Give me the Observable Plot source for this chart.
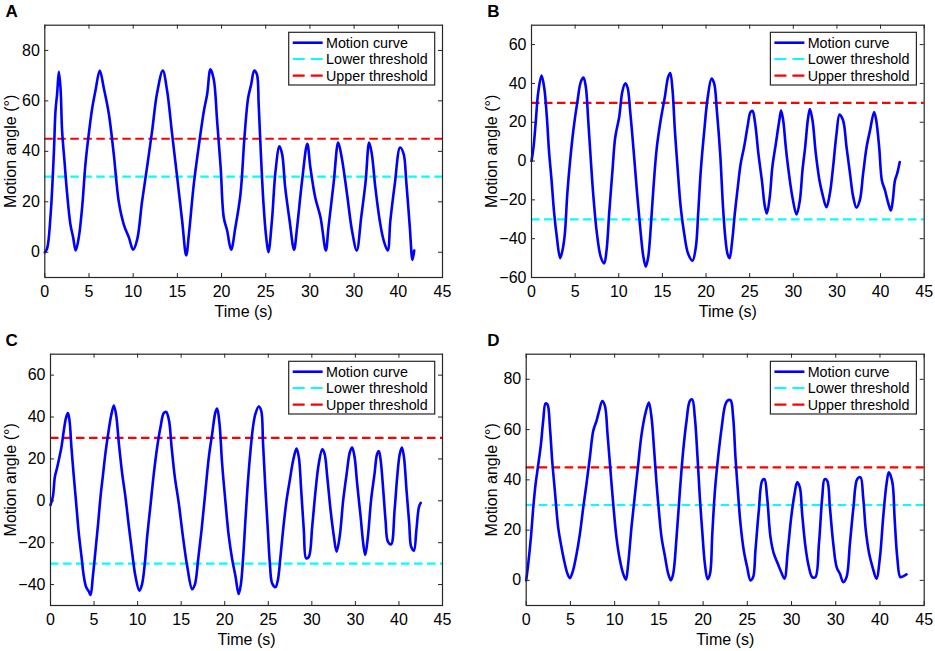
<!DOCTYPE html>
<html><head><meta charset="utf-8">
<script src="https://cdn.jsdelivr.net/npm/d3@7"></script>
<script src="https://cdn.jsdelivr.net/npm/@observablehq/plot@0.6"></script>
<style>
body{margin:0;background:#fff;}
#wrap{position:relative;width:935px;height:651px;background:#fff;overflow:hidden;}
#wrap svg{position:absolute;}
</style></head><body><div id="wrap"></div>
<script>
// ---------- data ----------
const xTicks = [0,5,10,15,20,25,30,35,40,45];
const xTickLabels = ["0","5","10","15","20","25","30","30","40","45"];
const legendLabels = ["Motion curve","Lower threshold","Upper threshold"];
const xLabel = "Time (s)";
const yLabel = "Motion angle (°)";

const timeA = [0,0.26,0.64,1.02,1.21,1.4,1.59,1.78,1.96,2.23,2.53,2.9,3.2,3.5,3.85,4.23,4.6,4.98,5.36,5.73,6.22,6.68,7.24,7.8,8.37,8.94,9.5,10.0,10.45,11.0,11.58,12.14,12.7,13.35,13.84,14.4,14.97,15.54,16.0,16.3,16.86,17.4,18.0,18.37,18.74,19.12,19.5,19.9,20.25,20.63,21.08,21.57,22.14,22.6,23.0,23.35,23.7,24.0,24.2,24.45,24.75,25.05,25.3,25.7,26.1,26.55,26.85,27.2,27.7,28.2,28.55,29.1,29.7,30.05,30.6,31.2,31.8,32.1,32.7,33.2,33.6,34.2,34.76,35.3,35.8,36.3,36.7,37.0,37.4,37.9,38.35,38.8,39.1,39.6,40.2,40.6,40.9,41.3,41.6,41.8];
const angleA = [0,1.5,14,39,56,63,71.5,65,48,36,23,11,6,0.7,6,18,35,47,57,64,72,65,55,39,20,11,6,1,5,20,34,48,63,72,64,47,30,12.5,-1.3,7,27,41.5,56,62.6,72.5,68.5,52,33.6,13.8,8.6,1,10,23,46,61,66.5,72,70.5,58.6,39,19,6,0,12.5,32,42,39,25.7,12.5,1,10,28,43,33.6,21.7,13.8,0.7,10,28,43.5,37.5,23,8.6,0.7,13.8,28,43.5,39,25.7,12.5,4.6,0.7,12.5,27,41.5,39,28,10,-3,0.7];

const timeB = [0,0.23,0.5,0.76,1.15,1.45,1.76,2.0,2.3,2.6,2.9,3.28,3.55,3.82,4.1,4.43,4.8,5.27,5.65,5.96,6.23,6.5,6.8,7.1,7.5,7.95,8.33,8.6,8.9,9.28,9.6,10.05,10.4,10.73,11.0,11.3,11.7,12.07,12.45,12.83,13.1,13.37,13.67,13.98,14.36,14.8,15.28,15.66,15.9,16.16,16.43,16.73,17.1,17.5,17.95,18.45,18.83,19.1,19.4,19.8,20.17,20.63,20.93,21.24,21.62,21.95,22.2,22.46,22.7,23.0,23.3,23.6,23.97,24.36,24.75,25.1,25.33,25.63,26.0,26.4,26.73,26.97,27.3,27.6,28.0,28.4,28.6,28.84,29.14,29.5,29.9,30.37,30.75,31.05,31.36,31.66,31.9,32.2,32.58,33.0,33.34,33.8,34.18,34.56,34.95,35.3,35.7,36.1,36.5,36.87,37.24,37.62,38.0,38.4,38.8,39.26,39.5,39.84,40.15,40.5,40.9,41.18,41.4,41.65,41.9,42.2];
const angleB = [0,7,21,35,44,38,22.7,5.5,-10,-27,-39,-50,-46,-37.5,-17,0.3,16,31,40.8,43,38,21,0.3,-18.6,-37.5,-49.6,-52.7,-46,-27,-4.8,12.4,22.7,35.6,40,38,26,5.5,-15,-34,-49.6,-54.4,-49.6,-34,-13.4,7,21,33,43.4,45.4,36.5,15.8,-3,-23.8,-37.5,-47.8,-51.3,-44.4,-27,-4.8,15.8,32,42.5,40,26,3.8,-24,-39,-47.8,-50,-41,-27,-15,-1.4,7.2,17.5,25.3,25.8,19.3,3.8,-10,-23,-27,-18.6,-3,9,21,26,21,7.2,-6.5,-18.6,-27.5,-20.3,-4.8,7.2,21,26.8,21,3.8,-10,-17,-23.8,-17,-3,14,24,21,7.2,-6.5,-18.6,-24,-20.3,-6.5,7.2,16,25.3,21,7.2,-10,-15,-22,-25.5,-20.3,-10,-6.5,-0.5];

const timeC = [0,0.27,0.5,0.77,1.03,1.26,1.53,1.8,2.0,2.18,2.4,2.68,2.95,3.25,3.56,3.83,4.1,4.4,4.6,4.86,5.17,5.47,5.74,6.0,6.3,6.62,6.97,7.27,7.54,7.85,8.23,8.6,9.0,9.38,9.76,10.2,10.5,10.83,11.1,11.5,11.86,12.25,12.63,13.0,13.28,13.6,13.9,14.27,14.73,15.2,15.7,16.26,16.57,16.95,17.34,17.72,18.18,18.56,18.94,19.13,19.4,19.7,20.1,20.47,20.86,21.24,21.6,21.85,22.12,22.4,22.65,22.96,23.27,23.53,23.9,24.18,24.4,24.68,24.95,25.18,25.44,25.82,26.1,26.4,26.7,27.1,27.47,27.86,28.24,28.5,28.78,29.08,29.35,29.66,30.04,30.43,30.8,31.2,31.46,31.77,32.15,32.53,32.84,33.2,33.6,34.0,34.37,34.63,34.9,35.2,35.6,35.9,36.13,36.44,36.8,37.2,37.5,37.7,37.9,38.2,38.46,38.73,39.1,39.5,39.8,40.1,40.34,40.57,40.87,41.18,41.4,41.72,42.0,42.3,42.5];
const angleC = [-2,1.9,11.4,16,21,25.7,33.6,40,41.9,38.4,25.7,11.4,-1.3,-15.6,-26.7,-36.2,-41.3,-43.3,-45,-36.2,-23.5,-10.8,1.9,11.4,22.5,32,40.8,45.5,40.8,27.3,13,1.9,-12.4,-25,-36.2,-42.9,-40,-29.8,-17,-1.3,13,25.7,35.2,41.9,42.4,38.4,25.7,11.4,-1.3,-17,-31.4,-42.2,-40,-28,-14,1.9,21,32,42.4,44,36.8,17.8,-1.3,-17,-28,-36.2,-44.5,-40,-26.7,-7.6,8.3,24,36,41.6,45,43.2,27.3,5,-14,-29.8,-39.4,-41.3,-37.8,-26.7,-14,0.3,9.8,19.4,24.9,21,5,-14,-27.5,-26.7,-12.4,5,17.8,24.6,22.5,11.4,-4.4,-17,-24.3,-17,0.3,13,23.3,25.4,21,8.3,-7.6,-20.3,-25.9,-17,0.3,13,22.5,23.7,19.4,5,-9.2,-19.5,-20.8,-4.4,11.4,22.5,25.4,21,5,-10.8,-21.9,-23.8,-14,-2.9,-1];

const timeD = [0,0.23,0.53,0.8,1.05,1.36,1.66,1.92,2.19,2.41,2.68,2.94,3.24,3.62,4.0,4.37,4.67,4.94,5.3,5.7,6.07,6.45,6.8,7.2,7.58,7.95,8.25,8.6,8.9,9.2,9.5,9.84,10.2,10.6,10.97,11.27,11.53,11.9,12.3,12.66,13.04,13.5,13.87,14.17,14.47,14.74,15.0,15.3,15.7,16.06,16.36,16.62,17.0,17.38,17.75,18.13,18.5,18.77,19.07,19.37,19.63,19.9,20.2,20.5,20.78,21.04,21.34,21.7,22.1,22.47,22.72,23.1,23.4,23.66,23.93,24.23,24.6,24.98,25.36,25.66,25.92,26.3,26.68,26.94,27.24,27.62,28.0,28.45,28.83,29.2,29.58,29.96,30.34,30.64,30.94,31.2,31.58,31.96,32.33,32.7,33.1,33.47,33.74,34.03,34.34,34.72,35.1,35.47,35.85,36.22,36.6,37.0,37.43,37.8,38.1,38.4,38.78,39.16,39.6,40.0,40.36,40.74,41.0,41.4,41.65,41.95,42.3,42.6,43.0];
const angleD = [0,6.6,17,29,38,46,54,63.5,70.4,70,61,47.6,35.7,21,13,6.6,2.6,0.9,4,10.6,18.5,29,38,49,59.5,63.5,67.5,71.4,69.4,58,45,30.4,17.2,8,2.6,0.3,6.6,21,34.4,46,58,66.8,70.8,64.8,51.6,38.4,27.8,17.2,9.3,2.6,0,2.6,17.2,35.7,51.6,63.5,71.4,72,64.8,49,33,19.8,6.6,0.5,2.6,18.5,35.7,49,60.8,69.4,71.4,71.7,64.8,49,35.7,22.5,11.9,5.3,0,1.3,11.9,27.8,39.7,40.3,33,17.2,10.6,6.6,3.3,0.7,11.9,25,34.4,39,37,26.5,13.2,5.3,1.3,1.3,14.6,33,40.3,39.7,29,14.6,5.3,2.6,-0.7,1.3,14.6,29,40.3,41,33,19.8,10.6,5.3,0.7,9.3,25,38.4,43,39,25,9.3,1.3,1.6,2.4];

const yDomainA = [-10, 90], yTicksA = [0,20,40,60,80], thresholdsA = [30, 45];
const yDomainB = [-60, 70], yTicksB = [-60,-40,-20,0,20,40,60], thresholdsB = [-30, 30];
const yDomainC = [-50, 70], yTicksC = [-40,-20,0,20,40,60], thresholdsC = [-30, 30];
const yDomainD = [-10, 90], yTicksD = [0,20,40,60,80], thresholdsD = [30, 45];

// ---------- layout ----------
const FONT = "'Liberation Sans', Arial, Helvetica, sans-serif";
const panels = [
  {letter:"A", t:timeA, v:angleA, yDomain:yDomainA, yTicks:yTicksA, thr:thresholdsA,
   left:0, top:0, width:467, height:320, ml:44.3, mr:25, mt:24.7, mb:43, ylDx:-33.8, letDx:-39.3},
  {letter:"B", t:timeB, v:angleB, yDomain:yDomainB, yTicks:yTicksB, thr:thresholdsB,
   left:467, top:0, width:468, height:320, ml:64, mr:11.3, mt:24.7, mb:43, ylDx:-39.3, letDx:-44.3},
  {letter:"C", t:timeC, v:angleC, yDomain:yDomainC, yTicks:yTicksC, thr:thresholdsC,
   left:0, top:325, width:467, height:326, ml:50, mr:25, mt:28.7, mb:46, ylDx:-39.7, letDx:-45},
  {letter:"D", t:timeD, v:angleD, yDomain:yDomainD, yTicks:yTicksD, thr:thresholdsD,
   left:467, top:325, width:468, height:326, ml:58.7, mr:11.3, mt:28.7, mb:46, ylDx:-34, letDx:-39}
];

const BLUE = "#0000ff", CYAN = "#00ffff", RED = "#ff0000", FRAME = "#262626";
const wrap = document.getElementById("wrap");

for (const p of panels) {
  const fw = p.width - p.ml - p.mr;
  const fh = p.height - p.mt - p.mb;
  const tick = 4;
  const svg = Plot.plot({
    width: p.width, height: p.height,
    marginLeft: p.ml, marginRight: p.mr, marginTop: p.mt, marginBottom: p.mb,
    style: {fontFamily: FONT, fontSize: "16px", color: "#000", background: "transparent", overflow: "visible"},
    x: {domain: [0, 45]},
    y: {domain: p.yDomain},
    marks: [
      Plot.ruleY([p.thr[0]], {stroke: CYAN, strokeWidth: 2.2, strokeDasharray: "8.5,4.5"}),
      Plot.ruleY([p.thr[1]], {stroke: RED, strokeWidth: 2.2, strokeDasharray: "8.5,4.5"}),
      Plot.line(p.t, {x: p.t, y: p.v, stroke: BLUE, strokeWidth: 2.6, curve: "catmull-rom"}),
      // inward ticks on all four sides
      Plot.tickX(xTicks, {x: d => d, stroke: FRAME, insetTop: fh - tick}),
      Plot.tickX(xTicks, {x: d => d, stroke: FRAME, insetBottom: fh - tick}),
      Plot.tickY(p.yTicks, {y: d => d, stroke: FRAME, insetRight: fw - tick}),
      Plot.tickY(p.yTicks, {y: d => d, stroke: FRAME, insetLeft: fw - tick}),
      Plot.frame({stroke: FRAME, strokeWidth: 1.2}),
      Plot.axisX(xTicks, {tickSize: 0, tickPadding: 8, fontSize: 16,
        tickFormat: d => xTickLabels[xTicks.indexOf(d)], label: null}),
      Plot.axisY(p.yTicks, {tickSize: 0, tickPadding: 5, fontSize: 16, label: null}),
      Plot.text([xLabel], {frameAnchor: "bottom", lineAnchor: "middle", textAnchor: "middle", dy: 34, fontSize: 16}),
      Plot.text([yLabel], {frameAnchor: "left", rotate: -90, textAnchor: "middle", lineAnchor: "middle", dx: p.ylDx, fontSize: 16}),
      Plot.text([p.letter], {frameAnchor: "top-left", dx: p.letDx, dy: -8, textAnchor: "start",
        lineAnchor: "bottom", fontWeight: "bold", fontSize: 17})
    ]
  });
  svg.style.left = p.left + "px";
  svg.style.top = p.top + "px";

  // legend box (inside the frame, top-right)
  const bw = 146, bh = 52.7;
  const bx = p.width - p.mr - 7.3 - bw, by = p.mt + 7.6;
  const g = d3.select(svg).append("g").attr("font-family", FONT).attr("font-size", 14.3)
    .attr("text-anchor", "start");
  g.append("rect").attr("x", bx).attr("y", by).attr("width", bw).attr("height", bh)
    .attr("fill", "#fff").attr("stroke", FRAME).attr("stroke-width", 1.2);
  const rows = [
    {label: legendLabels[0], color: BLUE, dash: null, w: 2.6},
    {label: legendLabels[1], color: CYAN, dash: "12,6", w: 2.2},
    {label: legendLabels[2], color: RED, dash: "12,6", w: 2.2}
  ];
  const rowY = [10.4, 26.7, 43.4];
  rows.forEach((r, i) => {
    const yy = by + rowY[i];
    g.append("line").attr("x1", bx + 4).attr("x2", bx + 34).attr("y1", yy).attr("y2", yy)
      .attr("stroke", r.color).attr("stroke-width", r.w).attr("stroke-dasharray", r.dash);
    g.append("text").attr("x", bx + 37.3).attr("y", yy).attr("dy", "0.35em")
      .attr("text-anchor", "start").attr("fill", "#000").text(r.label);
  });
  wrap.appendChild(svg);
}
</script>
</body></html>
